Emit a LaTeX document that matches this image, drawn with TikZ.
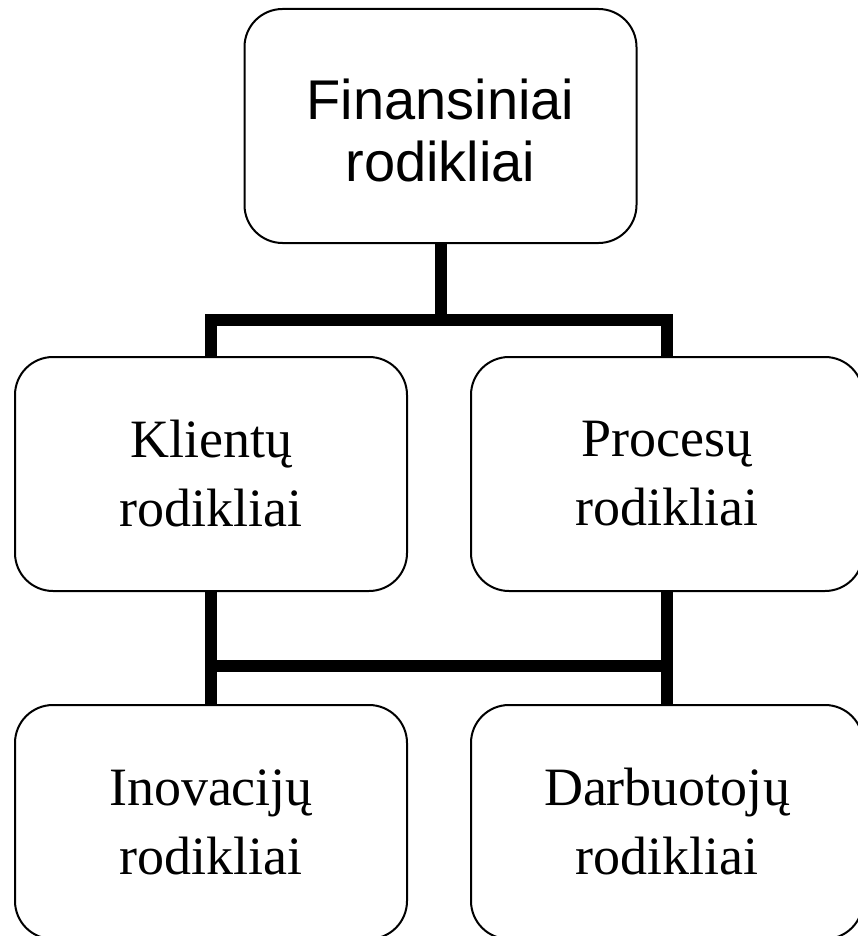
\documentclass[tikz,border=0pt]{standalone}
\usepackage{fontspec}
\setmainfont{Liberation Serif}
\newfontfamily\headsans{Liberation Sans}
\begin{document}
\begin{tikzpicture}[x=1pt,y=-1pt,
  card/.style={draw=black, line width=2pt, rounded corners=38pt, fill=white,
    minimum width=392pt, minimum height=234pt, inner sep=0pt, align=center},
  serifbox/.style={card, font=\fontsize{54}{69}\selectfont},
  headbox/.style={card, font=\headsans\fontsize{56}{62}\selectfont},
  link/.style={draw=black, line width=12pt, line join=miter}]
  \useasboundingbox (0,0) rectangle (857,936);

  % boxes
  \node[headbox]  (F) at (440.5,126) {};
  \node[font=\headsans\fontsize{56}{62}\selectfont, align=center, inner sep=0pt]
    (Ft) at (440.5,130) {Finansiniai\\rodikliai};
  \node[serifbox] (K) at (211,474) {Klientų\\rodikliai};
  \node[serifbox] (P) at (667,474) {Procesų\\rodikliai};
  \node[serifbox] (I) at (211,822) {Inovacijų\\rodikliai};
  \node[serifbox] (D) at (667,822) {Darbuotojų\\rodikliai};

  % junction points of the connectors
  \coordinate (j1) at (441,320);
  \coordinate (j2) at (440,666);

  % upper tree
  \draw[link] (F.south -| j1) -- (j1);
  \draw[link] (K.north) |- (j1) -| (P.north);

  % lower ladder
  \draw[link] (K.south) -- (I.north);
  \draw[link] (P.south) -- (D.north);
  \draw[link] (K.south |- j2) -- (P.south |- j2);
\end{tikzpicture}
\end{document}
